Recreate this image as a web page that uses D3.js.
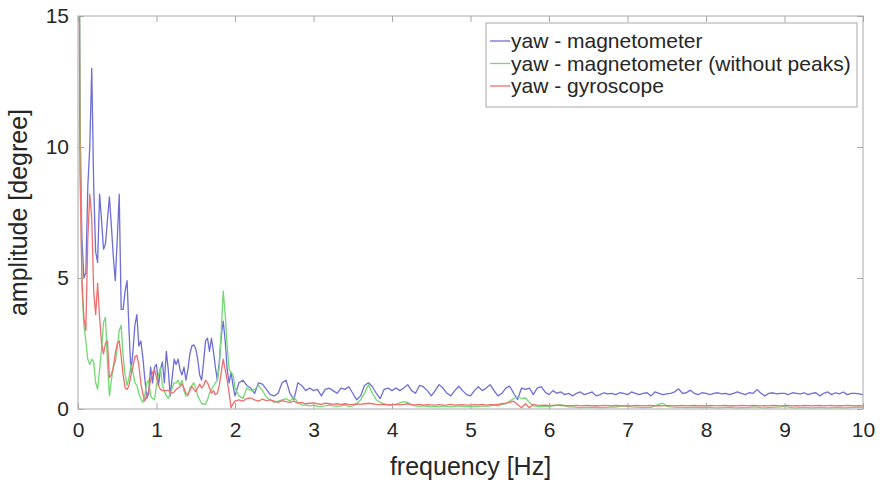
<!DOCTYPE html>
<html><head><meta charset="utf-8">
<script src="https://cdn.jsdelivr.net/npm/d3@7"></script>
<style>
body{margin:0;background:#fff}
svg{display:block}
text{font-family:Arial,"Liberation Sans",Helvetica,sans-serif}
</style>
</head><body>
<svg id="chart" width="882" height="483"></svg>
<script>
// ---------- data ----------
const seriesNames = ["yaw - magnetometer", "yaw - magnetometer (without peaks)", "yaw - gyroscope"];
const seriesColors = ["#6e6ed6", "#74d874", "#f06e6e"];
const xTicks = [0,1,2,3,4,5,6,7,8,9,10];
const yTicks = [0,5,10,15];
const xLabel = "frequency [Hz]";
const yLabel = "amplitude [degree]";

// frequency grid: 0 .. 1.975 Hz every 0.025 Hz, then 2 .. 10 Hz every 0.05 Hz
const freqLow = d3.range(80).map(i => i * 0.025);
const freqHigh = d3.range(161).map(i => 2 + i * 0.05);

const magLow = [
  30, 11, 6.5, 5.0, 5.2, 8.5, 10.0, 13.0, 8.5, 6.0,
  5.6, 8.2, 7.2, 6.1, 6.3, 7.2, 8.1, 7.0, 5.8, 4.9,
  6.5, 8.2, 3.8, 3.8, 4.5, 4.9, 3.0, 1.4, 2.2, 3.2,
  3.6, 2.4, 2.6, 2.0, 1.2, 0.4, 0.6, 1.6, 1.0, 1.6,
  1.7, 0.9, 1.5, 1.8, 1.0, 2.2, 1.5, 0.5, 1.2, 1.9,
  1.7, 1.9, 1.5, 1.3, 1.6, 1.1, 1.5, 2.1, 2.4, 2.45,
  2.3, 1.9, 1.3, 1.1, 1.8, 2.6, 2.7, 2.2, 2.7, 2.2,
  1.6, 1.1, 1.8, 2.8, 3.35, 2.6, 1.5, 1.0, 1.4, 0.9
];
const magHigh = [
  0.5,1.0,1.1,0.9,0.8,0.6,1.0,0.95,0.75,0.55,
  0.5,0.6,1.0,1.1,0.6,0.35,1.0,0.9,0.7,0.8,
  0.7,0.75,0.5,0.75,0.8,0.7,0.6,0.8,0.75,0.85,
  0.6,0.35,0.5,0.9,1.0,0.85,0.6,0.4,0.75,0.8,
  0.7,0.8,0.7,0.8,0.93,0.7,0.6,0.9,0.85,0.7,
  0.5,0.7,0.93,0.8,0.6,0.5,0.7,0.87,0.7,0.55,
  0.5,0.7,0.85,0.7,0.8,0.93,0.7,0.5,0.6,0.8,
  0.87,0.6,0.36,0.8,0.75,0.8,0.55,0.8,0.85,0.65,
  0.55,0.7,0.6,0.65,0.55,0.6,0.5,0.6,0.65,0.55,
  0.6,0.65,0.5,0.55,0.62,0.58,0.6,0.55,0.62,0.6,
  0.55,0.65,0.6,0.55,0.6,0.62,0.5,0.65,0.6,0.55,
  0.58,0.6,0.65,0.77,0.6,0.62,0.72,0.6,0.55,0.62,
  0.6,0.55,0.6,0.62,0.58,0.6,0.55,0.6,0.65,0.6,
  0.55,0.62,0.6,0.74,0.6,0.5,0.6,0.62,0.58,0.6,
  0.6,0.55,0.62,0.6,0.58,0.62,0.55,0.6,0.62,0.5,
  0.6,0.65,0.55,0.62,0.58,0.65,0.55,0.6,0.6,0.58,
  0.55
];

const magNoPeaksLow = [
  30, 12, 4.6, 3.2, 2.6, 1.9, 1.7, 1.9, 1.8, 1.0,
  0.75, 1.5, 2.3, 3.3, 3.5, 1.8, 0.5, 1.1, 1.6, 1.8,
  2.3, 3.0, 3.2, 2.0, 1.3, 0.9, 1.2, 1.7, 1.4, 1.0,
  0.9, 0.6, 0.4, 0.25, 0.5, 1.0, 1.1, 0.5, 0.4, 0.35,
  0.9, 1.3, 1.6, 0.9, 0.7, 0.5, 0.4, 0.6, 0.8, 1.0,
  1.0, 1.1, 0.9, 1.1, 0.7, 0.5, 0.5, 0.8, 0.9, 1.0,
  0.8, 0.5, 0.35, 0.2, 0.2, 0.17, 0.35, 0.6, 0.75, 0.87,
  1.0, 1.1, 1.6, 3.0, 4.5, 3.6, 2.4, 1.5, 1.4, 1.3
];
const magNoPeaksHigh = [
  0.8,0.5,0.4,0.8,0.7,0.75,0.9,0.7,0.45,0.35,
  0.25,0.3,0.35,0.4,0.3,0.45,0.25,0.15,0.15,0.12,
  0.15,0.1,0.1,0.12,0.15,0.12,0.1,0.12,0.15,0.1,
  0.12,0.2,0.35,0.6,0.92,0.6,0.35,0.25,0.2,0.15,
  0.15,0.18,0.23,0.28,0.25,0.15,0.12,0.1,0.12,0.1,
  0.08,0.1,0.08,0.1,0.1,0.08,0.1,0.12,0.1,0.08,
  0.1,0.08,0.1,0.12,0.1,0.12,0.15,0.12,0.18,0.2,
  0.3,0.4,0.46,0.4,0.42,0.25,0.12,0.1,0.08,0.1,
  0.1,0.12,0.15,0.17,0.12,0.08,0.08,0.06,0.05,0.06,
  0.06,0.07,0.06,0.05,0.05,0.06,0.08,0.07,0.1,0.12,
  0.1,0.08,0.07,0.06,0.05,0.06,0.06,0.12,0.18,0.22,
  0.1,0.08,0.07,0.06,0.06,0.05,0.06,0.07,0.06,0.05,
  0.06,0.07,0.05,0.04,0.05,0.06,0.07,0.05,0.04,0.05,
  0.05,0.06,0.08,0.07,0.05,0.04,0.05,0.06,0.07,0.08,
  0.1,0.07,0.05,0.04,0.05,0.06,0.05,0.04,0.05,0.06,
  0.05,0.04,0.05,0.06,0.05,0.04,0.05,0.06,0.07,0.06,
  0.07
];

const gyroLow = [
  30, 9.0, 5.0, 3.5, 3.0, 6.5, 8.2, 7.3, 4.5, 3.6,
  4.8, 3.5, 2.5, 2.1, 2.5, 2.6, 1.2, 1.3, 1.6, 2.1,
  2.5, 2.6, 2.0, 1.3, 0.8, 0.75, 0.9, 1.3, 1.6, 2.0,
  2.05, 1.7, 1.0, 0.6, 0.3, 0.5, 0.7, 1.1, 1.4, 1.5,
  1.2, 0.9, 0.75, 0.7, 0.7, 0.7, 0.72, 0.65, 0.6, 0.65,
  0.75, 0.8, 0.85, 0.95, 0.8, 0.6, 0.55, 0.7, 0.87, 0.75,
  0.67, 0.8, 0.95, 0.8, 0.9, 1.1, 1.0, 0.8, 0.6, 0.7,
  0.55, 0.6, 0.9, 1.4, 1.9, 1.5, 1.1, 0.6, 0.05, 0.2
];
const gyroHigh = [
  0.3,0.35,0.3,0.4,0.42,0.35,0.3,0.38,0.32,0.35,
  0.3,0.25,0.32,0.28,0.25,0.3,0.22,0.25,0.2,0.22,
  0.23,0.2,0.18,0.22,0.2,0.18,0.2,0.17,0.2,0.18,
  0.17,0.2,0.18,0.2,0.22,0.2,0.18,0.17,0.18,0.17,
  0.17,0.18,0.16,0.18,0.2,0.17,0.16,0.18,0.15,0.17,
  0.16,0.15,0.17,0.15,0.16,0.18,0.15,0.16,0.17,0.15,
  0.15,0.17,0.16,0.18,0.15,0.17,0.16,0.18,0.2,0.22,
  0.25,0.3,0.17,0.05,0.2,0.05,0.18,0.15,0.14,0.15,
  0.13,0.14,0.15,0.13,0.14,0.12,0.13,0.14,0.12,0.13,
  0.14,0.12,0.13,0.12,0.14,0.13,0.12,0.14,0.13,0.12,
  0.13,0.12,0.14,0.13,0.12,0.13,0.14,0.12,0.13,0.12,
  0.14,0.13,0.12,0.13,0.14,0.12,0.13,0.14,0.12,0.13,
  0.12,0.14,0.13,0.12,0.13,0.14,0.12,0.13,0.12,0.14,
  0.13,0.12,0.14,0.13,0.12,0.13,0.12,0.14,0.13,0.12,
  0.13,0.14,0.12,0.13,0.12,0.14,0.13,0.12,0.13,0.14,
  0.12,0.13,0.14,0.12,0.13,0.12,0.14,0.13,0.12,0.13,
  0.12
];

// ---------- chart ----------
const W = 882, H = 483;
const m = {left: 78, top: 16, right: 19, bottom: 74};
const iw = W - m.left - m.right, ih = H - m.top - m.bottom;
const svg = d3.select("#chart");
const x = d3.scaleLinear().domain([0, 10]).range([m.left, m.left + iw]);
const y = d3.scaleLinear().domain([0, 15]).range([m.top + ih, m.top]);

const freq = freqLow.concat(freqHigh);
const series = [
  magLow.concat(magHigh),
  magNoPeaksLow.concat(magNoPeaksHigh),
  gyroLow.concat(gyroHigh)
];

svg.append("defs").append("clipPath").attr("id", "plotclip")
  .append("rect").attr("x", m.left).attr("y", m.top).attr("width", iw).attr("height", ih);

const boxColor = "#a8a8a8";
const textColor = "#262626";
const tickFont = 21;

const line = d3.line().x((d, i) => x(freq[i])).y(d => y(d));
const gLines = svg.append("g").attr("clip-path", "url(#plotclip)");
series.forEach((s, k) => {
  gLines.append("path").datum(s)
    .attr("fill", "none")
    .attr("stroke", seriesColors[k])
    .attr("stroke-width", 1.3)
    .attr("stroke-linejoin", "round")
    .attr("d", line);
});

// axes (inward ticks)
function styleAxis(g) {
  g.select(".domain").remove();
  g.selectAll(".tick line").attr("stroke", boxColor);
  g.selectAll(".tick text").attr("fill", textColor).style("font-size", tickFont + "px")
    .style("font-family", "Arial, 'Liberation Sans', Helvetica, sans-serif");
}
svg.append("g").attr("transform", `translate(0,${m.top + ih})`)
  .call(d3.axisBottom(x).tickValues(xTicks).tickFormat(d3.format("d")).tickSizeInner(-6).tickSizeOuter(0).tickPadding(13))
  .call(styleAxis);
svg.append("g").attr("transform", `translate(0,${m.top})`)
  .call(d3.axisTop(x).tickValues(xTicks).tickFormat("").tickSizeInner(-6).tickSizeOuter(0))
  .call(styleAxis);
svg.append("g").attr("transform", `translate(${m.left},0)`)
  .call(d3.axisLeft(y).tickValues(yTicks).tickFormat(d3.format("d")).tickSizeInner(-6).tickSizeOuter(0).tickPadding(9))
  .call(styleAxis);
svg.append("g").attr("transform", `translate(${m.left + iw},0)`)
  .call(d3.axisRight(y).tickValues(yTicks).tickFormat("").tickSizeInner(-6).tickSizeOuter(0))
  .call(styleAxis);

// box
svg.append("rect").attr("x", m.left).attr("y", m.top).attr("width", iw).attr("height", ih)
  .attr("fill", "none").attr("stroke", boxColor).attr("stroke-width", 1);

// axis labels
svg.append("text").attr("x", x(5)).attr("y", 475).attr("text-anchor", "middle")
  .attr("fill", textColor).style("font-size", "25px").text(xLabel);
svg.append("text").attr("transform", `translate(27,${(m.top + m.top + ih) / 2}) rotate(-90)`)
  .attr("text-anchor", "middle").attr("fill", textColor).style("font-size", "25px").text(yLabel);

// legend
const lg = svg.append("g");
lg.append("rect").attr("x", 486).attr("y", 23).attr("width", 371).attr("height", 84)
  .attr("fill", "#fff").attr("stroke", boxColor).attr("stroke-width", 1);
seriesNames.forEach((name, k) => {
  const cy = 41 + k * 22.5;
  lg.append("line").attr("x1", 490).attr("x2", 510).attr("y1", cy).attr("y2", cy)
    .attr("stroke", seriesColors[k]).attr("stroke-width", 1.3);
  lg.append("text").attr("x", 511).attr("y", cy).attr("dy", "0.35em")
    .attr("fill", textColor).style("font-size", "21px").text(name);
});
</script>
</body></html>
